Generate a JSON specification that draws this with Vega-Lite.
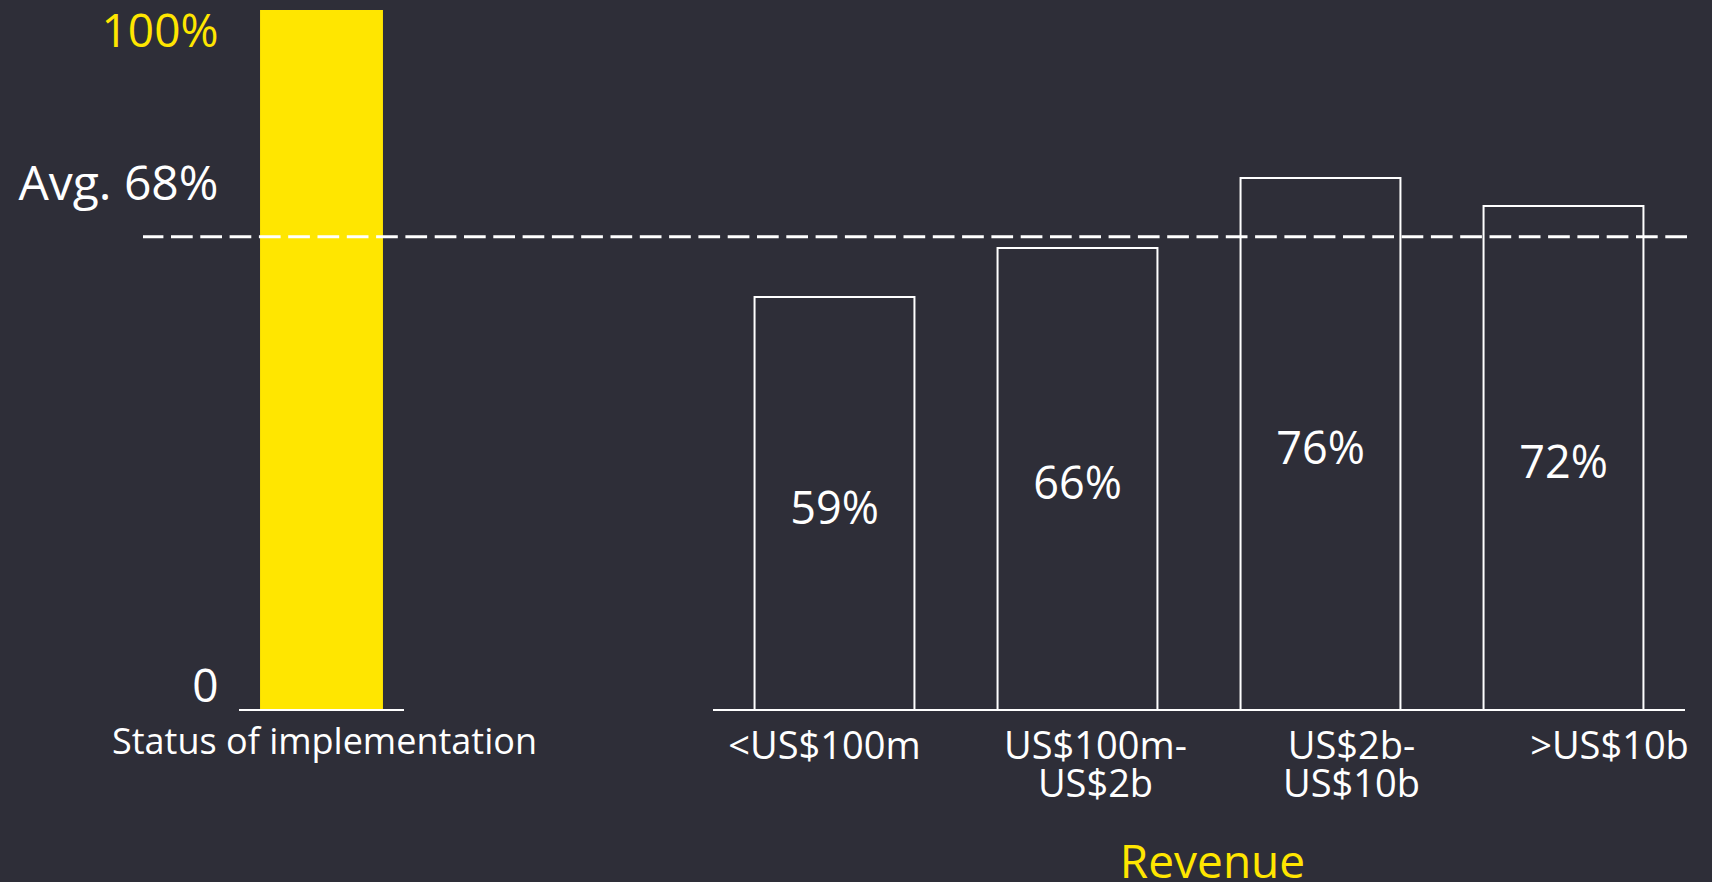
{
  "$schema": "https://vega.github.io/schema/vega-lite/v6.json",
  "width": 1544,
  "height": 700,
  "autosize": {"type": "none"},
  "padding": {"left": 143, "top": 10, "right": 25, "bottom": 172},
  "background": "#2e2e38",
  "config": {"view": {"stroke": null}, "font": "Open Sans"},
  "datasets": {
    "overall": [{"category": "Status of implementation", "value": 100}],
    "revenue": [
      {"category": "<US$100m", "value": 59},
      {"category": "US$100m-US$2b", "value": 66},
      {"category": "US$2b-US$10b", "value": 76},
      {"category": ">US$10b", "value": 72}
    ],
    "average": [{"label": "Avg. 68%", "value": 67.6}]
  },
  "layer": [
    {
      "data": {"name": "overall"},
      "encoding": {
        "x": {
          "field": "category",
          "type": "nominal",
          "scale": {"range": [96, 261], "paddingInner": 0, "paddingOuter": 0},
          "axis": {
            "orient": "bottom",
            "title": null,
            "domain": false,
            "ticks": false,
            "tickSize": 0,
            "labelAngle": 0,
            "labelFont": "Open Sans",
            "labelFontSize": 36,
            "labelColor": "#ffffff",
            "labelPadding": 15,
            "labelOffset": 3,
            "labelBaseline": "top",
            "labelLimit": 0
          }
        }
      },
      "layer": [
        {
          "mark": {"type": "bar", "color": "#ffe600", "width": {"band": 0.745}},
          "encoding": {
            "y": {
              "field": "value",
              "type": "quantitative",
              "scale": {"domain": [0, 100], "nice": false},
              "axis": {
                "values": [0, 67.6, 100],
                "labelExpr": "datum.value == 100 ? '100%' : (datum.value == 0 ? '0' : 'Avg. 68%')",
                "title": null,
                "domain": false,
                "ticks": false,
                "tickSize": 0,
                "grid": false,
                "offset": -75,
                "labelPadding": 0,
                "labelLimit": 0,
                "labelFont": "Open Sans",
                "labelFontSize": {"condition": {"test": "datum.value > 50 && datum.value < 90", "value": 48}, "value": 46},
                "labelAlign": "right",
                "labelBaseline": "middle",
                "labelFlush": false,
                "labelOverlap": false,
                "labelBound": false,
                "labelColor": {"condition": {"test": "datum.value == 100", "value": "#ffe600"}, "value": "#ffffff"},
                "labelOffset": {"condition": [{"test": "datum.value == 100", "value": 22}, {"test": "datum.value == 0", "value": -23}], "value": -51}
              }
            }
          }
        },
        {
          "mark": {"type": "rect", "fill": null, "stroke": "#ffffff", "strokeWidth": 2},
          "encoding": {
            "y": {"datum": 0, "type": "quantitative"},
            "y2": {"datum": 0}
          }
        }
      ]
    },
    {
      "data": {"name": "revenue"},
      "transform": [
        {"calculate": "datum.value / 2", "as": "mid"},
        {"calculate": "datum.value + '%'", "as": "pct"}
      ],
      "encoding": {
        "x": {
          "field": "category",
          "type": "nominal",
          "sort": null,
          "scale": {"range": [570, 1542], "paddingInner": 0, "paddingOuter": 0},
          "axis": {
            "orient": "bottom",
            "title": "Revenue",
            "titleColor": "#ffe600",
            "titleFont": "Open Sans",
            "titleFontSize": 46,
            "titleFontWeight": "normal",
            "titleX": 1069,
            "titleY": 167,
            "titleAlign": "center",
            "titleBaseline": "alphabetic",
            "domain": false,
            "ticks": false,
            "tickSize": 0,
            "labelAngle": 0,
            "labelFont": "Open Sans",
            "labelFontSize": 38,
            "labelColor": "#ffffff",
            "labelPadding": 18,
            "labelLineHeight": 38,
            "labelBaseline": "top",
            "labelLimit": 0,
            "labelExpr": "datum.value == 'US$100m-US$2b' ? ['US$100m-', 'US$2b'] : (datum.value == 'US$2b-US$10b' ? ['US$2b-', 'US$10b'] : datum.value)",
            "labelOffset": {"condition": [{"test": "datum.value == '<US$100m'", "value": -10}, {"test": "datum.value == 'US$100m-US$2b'", "value": 18}, {"test": "datum.value == 'US$2b-US$10b'", "value": 31}], "value": 46}
          }
        }
      },
      "layer": [
        {
          "mark": {"type": "bar", "filled": false, "color": "#ffffff", "strokeWidth": 2, "width": {"band": 0.658}},
          "encoding": {
            "y": {"field": "value", "type": "quantitative", "axis": {"title": null}}
          }
        },
        {
          "mark": {"type": "rect", "fill": null, "stroke": "#ffffff", "strokeWidth": 2},
          "encoding": {
            "y": {"datum": 0, "type": "quantitative"},
            "y2": {"datum": 0}
          }
        },
        {
          "mark": {"type": "text", "color": "#ffffff", "font": "Open Sans", "fontSize": 45, "baseline": "middle", "align": "center", "dy": 6},
          "encoding": {
            "y": {"field": "mid", "type": "quantitative"},
            "text": {"field": "pct", "type": "nominal"}
          }
        }
      ]
    },
    {
      "data": {"name": "average"},
      "mark": {"type": "rule", "color": "#ffffff", "strokeWidth": 3, "strokeDash": [21.7, 7.6]},
      "encoding": {
        "y": {"field": "value", "type": "quantitative"}
      }
    }
  ],
  "resolve": {"scale": {"x": "independent"}, "axis": {"x": "independent"}}
}
